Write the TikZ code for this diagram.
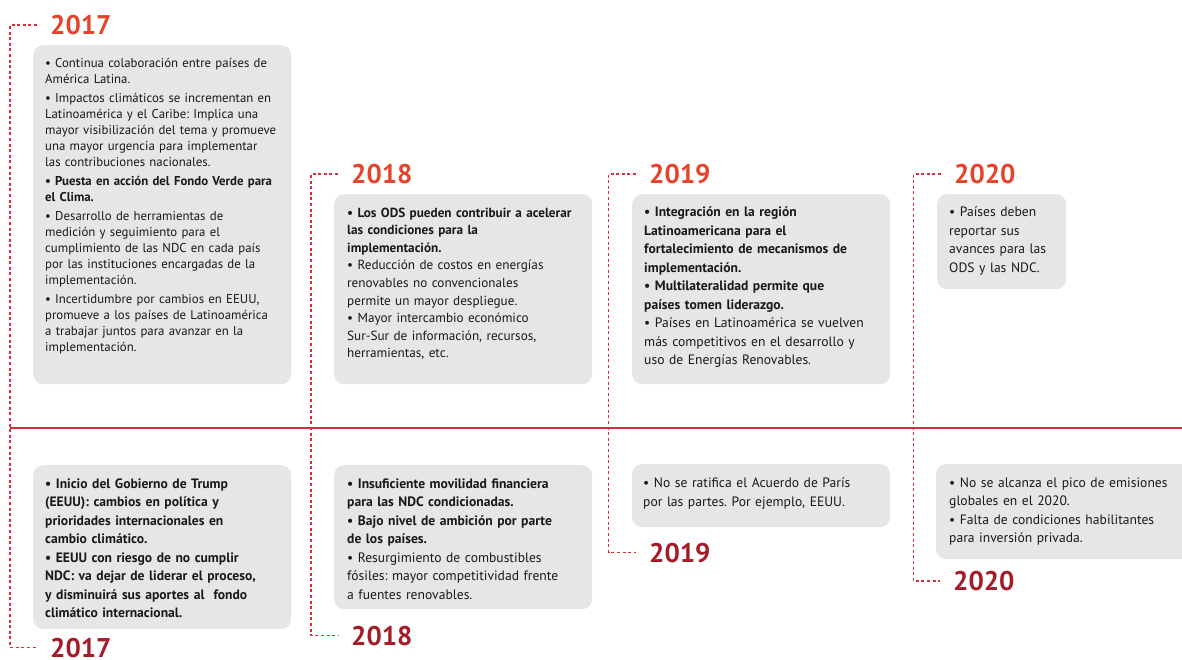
\documentclass[tikz,border=0pt]{standalone}
\usepackage{fontspec}
\setmainfont{PT Sans}
\usepackage{tikz}
\usetikzlibrary{positioning}
\frenchspacing

\definecolor{yrtop}{RGB}{228,68,42}
\definecolor{yrbot}{RGB}{163,28,40}
\definecolor{dotred}{RGB}{218,48,60}
\definecolor{linered}{RGB}{212,46,58}
\definecolor{boxgray}{RGB}{230,230,230}
\definecolor{ink}{RGB}{26,24,25}

\begin{document}
\begin{tikzpicture}[x=1pt, y=-1pt,
  card/.style={anchor=north west, fill=boxgray, rounded corners=10pt, inner sep=0pt},
  txt/.style={anchor=north west, inner sep=0pt, align=left, text width=250pt, text=ink,
    font=\fontsize{13.6}{18.5}\selectfont},
  yeartop/.style={anchor=base west, inner xsep=13pt, inner ysep=0pt, text=yrtop,
    font=\fontsize{27}{27}\selectfont\bfseries},
  yearbot/.style={yeartop, text=yrbot},
  dotline/.style={dotred, line width=1.8pt, dash pattern=on 3pt off 2.6pt},
  mainline/.style={linered, line width=2pt}]
 \useasboundingbox (0,0) rectangle (1182,659);
 \clip (0,0) rectangle (1182,659);
 \coordinate (lineL) at (10,428);
 \coordinate (lineR) at (1182,428);
 \draw[mainline] (lineL) -- (lineR);
 \node[yeartop] (y17a) at (37,34.5) {2017};
 \node[yeartop] (y18a) at (338,183.5) {2018};
 \node[yeartop] (y19a) at (636,183.5) {2019};
 \node[yeartop] (y20a) at (941,183.5) {2020};
 \node[yearbot] (y17b) at (37,657) {2017};
 \node[yearbot] (y18b) at (338,645) {2018};
 \node[yearbot] (y19b) at (636,562) {2019};
 \node[yearbot] (y20b) at (940,590.5) {2020};
 \coordinate (ax17) at (10,300);
 \coordinate (ax18) at (311,300);
 \coordinate (ax19) at (608.5,300);
 \coordinate (ax20) at (913.5,300);
 \draw[dotline] (y17a.west) -| (ax17) |- (y17b.west);
 \draw[dotline] (y18a.west) -| (ax18) |- (y18b.west);
 \draw[dotline] (y19a.west) -| (ax19) |- (y19b.west);
 \draw[dotline] (y20a.west) -| (ax20) |- (y20b.west);
 \node[card, minimum width=258pt, minimum height=339pt] (c17a) at (33,45) {};
 \node[card, minimum width=258pt, minimum height=190pt] (c18a) at (334,194) {};
 \node[card, minimum width=258pt, minimum height=190pt] (c19a) at (632,194) {};
 \node[card, minimum width=129pt, minimum height=95pt] (c20a) at (937,194) {};
 \node[card, minimum width=258pt, minimum height=164pt] (c17b) at (33,465) {};
 \node[card, minimum width=258pt, minimum height=144pt] (c18b) at (334,465) {};
 \node[card, minimum width=258pt, minimum height=63pt] (c19b) at (632,464) {};
 \node[card, minimum width=270pt, minimum height=95pt] (c20b) at (936,464) {};
 \node[txt, font=\fontsize{12.8}{16}\selectfont] (t17a) at ([shift={(12,13.5)}]c17a.north west)
  {• Continua colaboración entre países de\\ América Latina.\\[3pt]
   • Impactos climáticos se incrementan en\\ Latinoamérica y el Caribe: Implica una\\
   mayor visibilización del tema y promueve\\ una mayor urgencia para implementar\\
   las contribuciones nacionales.\\[3pt]
   \textbf{• Puesta en acción del Fondo Verde para\\ el Clima.}\\[3pt]
   • Desarrollo de herramientas de\\ medición y seguimiento para el\\
   cumplimiento de las NDC en cada país\\ por las instituciones encargadas de la\\
   implementación.\\[3pt]
   • Incertidumbre por cambios en EEUU,\\ promueve a los países de Latinoamérica\\
   a trabajar juntos para avanzar en la\\ implementación.};
 \node[txt, font=\fontsize{13.2}{17.6}\selectfont] (t18a) at ([shift={(13,13.5)}]c18a.north west)
  {\textbf{• Los ODS pueden contribuir a acelerar\\ las condiciones para la\\ implementación.}\\
   • Reducción de costos en energías\\ renovables no convencionales\\ permite un mayor despliegue.\\
   • Mayor intercambio económico\\ Sur-Sur de información, recursos,\\ herramientas, etc.};
 \node[txt] (t19a) at ([shift={(12,13)}]c19a.north west)
  {\textbf{• Integración en la región\\ Latinoamericana para el\\ fortalecimiento de mecanismos de\\
   implementación.\\ • Multilateralidad permite que\\ países tomen liderazgo.}\\
   • Países en Latinoamérica se vuelven\\ más competitivos en el desarrollo y\\ uso de Energías Renovables.};
 \node[txt] (t20a) at ([shift={(12,13)}]c20a.north west)
  {• Países deben\\ reportar sus\\ avances para las\\ ODS y las NDC.};
 \node[txt] (t17b) at ([shift={(12,13.5)}]c17b.north west)
  {\textbf{• Inicio del Gobierno de Trump\\ (EEUU): cambios en política y\\ prioridades internacionales en\\
   cambio climático.\\ • EEUU con riesgo de no cumplir\\ NDC: va dejar de liderar el proceso,\\
   y disminuirá sus aportes al\ \ fondo\\ climático internacional.}};
 \node[txt] (t18b) at ([shift={(13,13.5)}]c18b.north west)
  {\textbf{• Insuficiente movilidad financiera\\ para las NDC condicionadas.\\ • Bajo nivel de ambición por parte\\
   de los países.}\\ • Resurgimiento de combustibles\\ fósiles: mayor competitividad frente\\ a fuentes renovables.};
 \node[txt] (t19b) at ([shift={(11,13.5)}]c19b.north west)
  {• No se ratifica el Acuerdo de París\\ por las partes. Por ejemplo, EEUU.};
 \node[txt] (t20b) at ([shift={(13,13.5)}]c20b.north west)
  {• No se alcanza el pico de emisiones\\ globales en el 2020.\\ • Falta de condiciones habilitantes\\ para inversión privada.};
\end{tikzpicture}
\end{document}
